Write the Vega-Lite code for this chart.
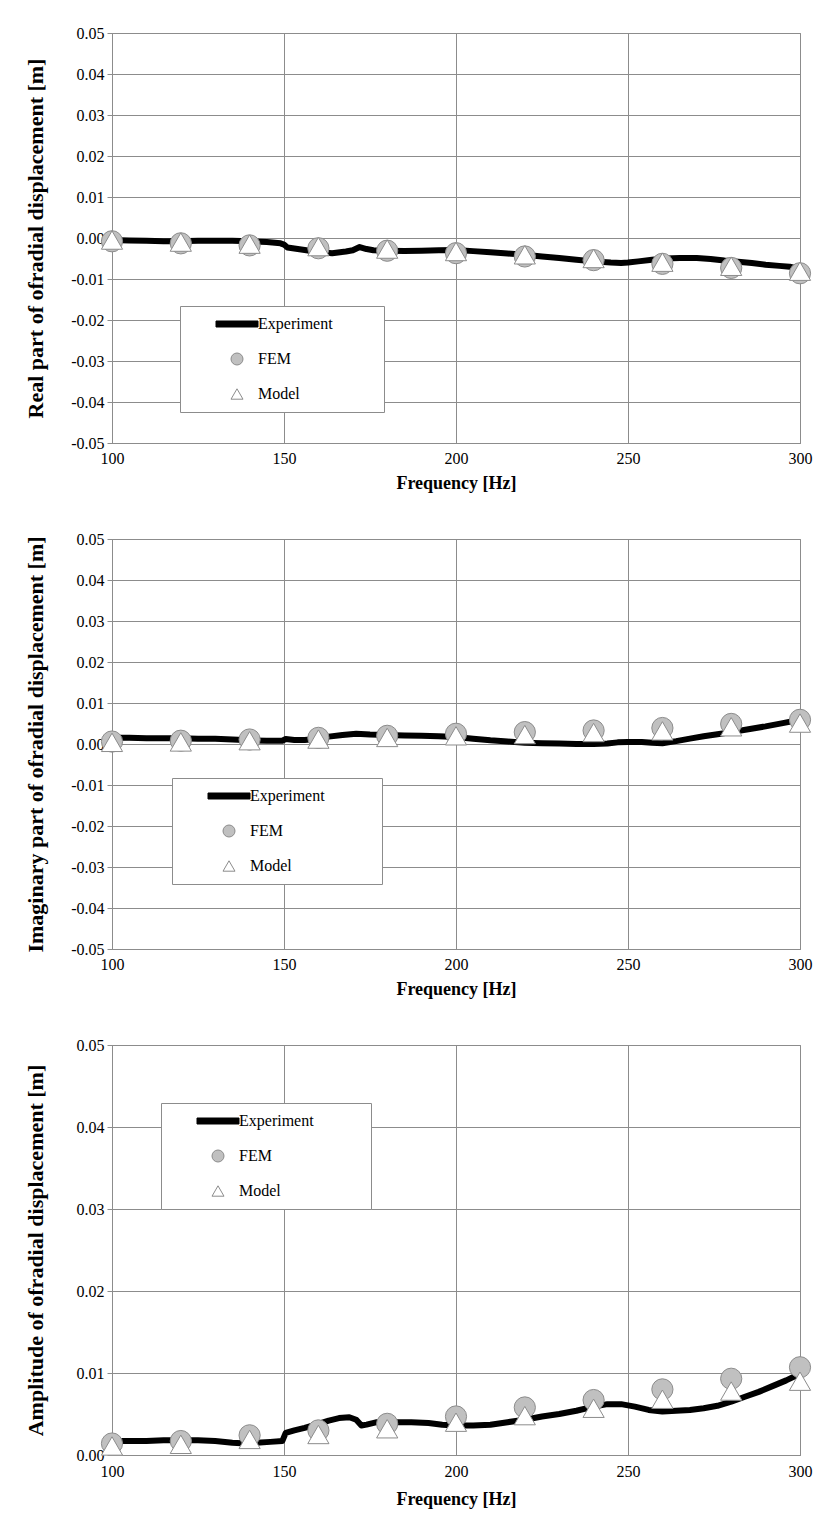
{
  "$schema": "https://vega.github.io/schema/vega-lite/v6.json",
  "background": "white",
  "padding": {"left": 23, "top": 24, "right": 5, "bottom": 5},
  "spacing": 96,
  "bounds": "flush",
  "resolve": {"scale": {"shape": "independent", "fill": "independent", "stroke": "independent"}, "legend": {"shape": "independent", "fill": "independent", "stroke": "independent"}},
  "config": {
    "font": "Liberation Serif",
    "view": {"stroke": "#8c8c8c", "strokeWidth": 1},
    "axis": {
      "labelFont": "Liberation Serif", "labelFontSize": 16, "labelColor": "#000000",
      "titleFont": "Liberation Serif", "titleFontSize": 18, "titleFontWeight": "bold", "titleColor": "#000000",
      "gridColor": "#8c8c8c", "gridOpacity": 1, "gridWidth": 1,
      "domainColor": "#8c8c8c", "tickColor": "#8c8c8c"
    },
    "axisY": {"titleFontSize": 22},
    "legend": {
      "title": null, "orient": "none", "padding": 10,
      "strokeColor": "#8c8c8c", "fillColor": "#ffffff",
      "labelFont": "Liberation Serif", "labelFontSize": 16, "labelColor": "#000000", "labelLimit": 400,
      "symbolSize": 144, "symbolStrokeWidth": 1, "symbolOffset": 39, "labelOffset": 13, "rowPadding": 19
    }
  },
  "vconcat": [
    {
      "width": 688, "height": 410,
      "layer": [
        {
          "data": {"values": [
            {"f":100,"v":-0.0005},{"f":105,"v":-0.0006},{"f":110,"v":-0.0007},{"f":115,"v":-0.0008},{"f":119,"v":-0.0008},{"f":125,"v":-0.0007},{"f":130,"v":-0.0007},{"f":135,"v":-0.0007},{"f":140,"v":-0.0008},{"f":145,"v":-0.001},{"f":149,"v":-0.0013},{"f":150,"v":-0.0016},{"f":151,"v":-0.0023},{"f":155,"v":-0.0028},{"f":160,"v":-0.0034},{"f":164,"v":-0.0037},{"f":168,"v":-0.0033},{"f":170,"v":-0.003},{"f":172,"v":-0.0022},{"f":174,"v":-0.0027},{"f":176,"v":-0.003},{"f":180,"v":-0.0031},{"f":185,"v":-0.0032},{"f":190,"v":-0.0031},{"f":195,"v":-0.003},{"f":200,"v":-0.0029},{"f":205,"v":-0.0032},{"f":210,"v":-0.0035},{"f":215,"v":-0.0038},{"f":220,"v":-0.0041},{"f":225,"v":-0.0045},{"f":230,"v":-0.0049},{"f":235,"v":-0.0053},{"f":240,"v":-0.0057},{"f":245,"v":-0.006},{"f":248,"v":-0.0061},{"f":250,"v":-0.006},{"f":253,"v":-0.0057},{"f":257,"v":-0.0053},{"f":261,"v":-0.005},{"f":265,"v":-0.0049},{"f":270,"v":-0.0049},{"f":274,"v":-0.0051},{"f":278,"v":-0.0055},{"f":282,"v":-0.0058},{"f":286,"v":-0.0061},{"f":290,"v":-0.0065},{"f":294,"v":-0.0068},{"f":297,"v":-0.007},{"f":300,"v":-0.0076}
          ]},
          "mark": {"type": "line", "color": "#000000", "strokeWidth": 6, "strokeCap": "round", "strokeJoin": "round"},
          "encoding": {
            "x": {"field": "f", "type": "quantitative", "scale": {"domain": [100, 300], "nice": false, "zero": false},
                  "axis": {"title": "Frequency [Hz]", "values": [100,150,200,250,300], "format": "d", "ticks": false, "tickSize": 0, "labelPadding": 7, "titlePadding": 8, "labelFlush": false, "grid": true}},
            "y": {"field": "v", "type": "quantitative", "scale": {"domain": [-0.05, 0.05], "nice": false, "zero": false},
                  "axis": {"title": "Real part of  ofradial displacement [m]", "values": [-0.05,-0.04,-0.03,-0.02,-0.01,0,0.01,0.02,0.03,0.04,0.05], "format": ".2f", "labelExpr": "replace(datum.label, '−', '-')", "tickSize": 5, "labelPadding": 3, "titlePadding": 23, "grid": true}}
          }
        },
        {
          "data": {"values": [
            {"f":100,"v":-0.0008,"s":"FEM"},{"f":120,"v":-0.0013,"s":"FEM"},{"f":140,"v":-0.0018,"s":"FEM"},{"f":160,"v":-0.0025,"s":"FEM"},{"f":180,"v":-0.0031,"s":"FEM"},{"f":200,"v":-0.0037,"s":"FEM"},{"f":220,"v":-0.0045,"s":"FEM"},{"f":240,"v":-0.0054,"s":"FEM"},{"f":260,"v":-0.0063,"s":"FEM"},{"f":280,"v":-0.0073,"s":"FEM"},{"f":300,"v":-0.0086,"s":"FEM"},
            {"f":100,"v":-0.0005,"s":"Model"},{"f":120,"v":-0.001,"s":"Model"},{"f":140,"v":-0.0015,"s":"Model"},{"f":160,"v":-0.0021,"s":"Model"},{"f":180,"v":-0.0027,"s":"Model"},{"f":200,"v":-0.0033,"s":"Model"},{"f":220,"v":-0.0041,"s":"Model"},{"f":240,"v":-0.005,"s":"Model"},{"f":260,"v":-0.0059,"s":"Model"},{"f":280,"v":-0.0069,"s":"Model"},{"f":300,"v":-0.0081,"s":"Model"}
          ]},
          "mark": {"type": "point", "filled": true, "strokeWidth": 1, "size": 450, "opacity": 1},
          "encoding": {
            "x": {"field": "f", "type": "quantitative"},
            "y": {"field": "v", "type": "quantitative"},
            "shape": {"field": "s", "type": "nominal", "scale": {"domain": ["Experiment","FEM","Model"], "range": ["M-3.5,-0.5L3.5,-0.5L3.5,0.5L-3.5,0.5Z M22.5,0", "circle", "triangle-up"]},
              "legend": {"legendX": 68, "legendY": 273}},
            "fill": {"field": "s", "type": "nominal", "scale": {"domain": ["Experiment","FEM","Model"], "range": ["#000000", "#c0c0c0", "#ffffff"]},
              "legend": {"legendX": 68, "legendY": 273}},
            "stroke": {"field": "s", "type": "nominal", "scale": {"domain": ["Experiment","FEM","Model"], "range": ["#000000", "#8c8c8c", "#8c8c8c"]},
              "legend": {"legendX": 68, "legendY": 273}}
          }
        }
      ]
    },
    {
      "width": 688, "height": 410,
      "layer": [
        {
          "data": {"values": [
            {"f":100,"v":0.0015},{"f":105,"v":0.0015},{"f":110,"v":0.0014},{"f":115,"v":0.0014},{"f":120,"v":0.0014},{"f":125,"v":0.0013},{"f":130,"v":0.0013},{"f":135,"v":0.0011},{"f":140,"v":0.0009},{"f":145,"v":0.0008},{"f":149.5,"v":0.0008},{"f":150.5,"v":0.0012},{"f":153,"v":0.001},{"f":156,"v":0.001},{"f":160,"v":0.0013},{"f":163,"v":0.0018},{"f":167,"v":0.0022},{"f":171,"v":0.0025},{"f":175,"v":0.0023},{"f":180,"v":0.0022},{"f":185,"v":0.0021},{"f":190,"v":0.002},{"f":195,"v":0.0019},{"f":200,"v":0.0017},{"f":205,"v":0.0013},{"f":210,"v":0.0009},{"f":215,"v":0.0006},{"f":220,"v":0.0003},{"f":225,"v":0.0002},{"f":230,"v":0.0001},{"f":235,"v":0.0},{"f":240,"v":0.0},{"f":244,"v":0.0001},{"f":247,"v":0.0004},{"f":250,"v":0.0005},{"f":254,"v":0.0005},{"f":257,"v":0.0003},{"f":260,"v":0.0002},{"f":264,"v":0.0007},{"f":268,"v":0.0013},{"f":272,"v":0.0019},{"f":276,"v":0.0024},{"f":280,"v":0.0029},{"f":285,"v":0.0036},{"f":290,"v":0.0043},{"f":295,"v":0.0051},{"f":300,"v":0.0059}
          ]},
          "mark": {"type": "line", "color": "#000000", "strokeWidth": 6, "strokeCap": "round", "strokeJoin": "round"},
          "encoding": {
            "x": {"field": "f", "type": "quantitative", "scale": {"domain": [100, 300], "nice": false, "zero": false},
                  "axis": {"title": "Frequency [Hz]", "values": [100,150,200,250,300], "format": "d", "ticks": false, "tickSize": 0, "labelPadding": 7, "titlePadding": 8, "labelFlush": false, "grid": true}},
            "y": {"field": "v", "type": "quantitative", "scale": {"domain": [-0.05, 0.05], "nice": false, "zero": false},
                  "axis": {"title": "Imaginary part of  ofradial displacement [m]", "values": [-0.05,-0.04,-0.03,-0.02,-0.01,0,0.01,0.02,0.03,0.04,0.05], "format": ".2f", "labelExpr": "replace(datum.label, '−', '-')", "tickSize": 5, "labelPadding": 3, "titlePadding": 23, "grid": true}}
          }
        },
        {
          "data": {"values": [
            {"f":100,"v":0.0006,"s":"FEM"},{"f":120,"v":0.0008,"s":"FEM"},{"f":140,"v":0.0011,"s":"FEM"},{"f":160,"v":0.0015,"s":"FEM"},{"f":180,"v":0.002,"s":"FEM"},{"f":200,"v":0.0025,"s":"FEM"},{"f":220,"v":0.0029,"s":"FEM"},{"f":240,"v":0.0033,"s":"FEM"},{"f":260,"v":0.0039,"s":"FEM"},{"f":280,"v":0.0049,"s":"FEM"},{"f":300,"v":0.0059,"s":"FEM"},
            {"f":100,"v":0.0004,"s":"Model"},{"f":120,"v":0.0005,"s":"Model"},{"f":140,"v":0.0008,"s":"Model"},{"f":160,"v":0.0012,"s":"Model"},{"f":180,"v":0.0016,"s":"Model"},{"f":200,"v":0.002,"s":"Model"},{"f":220,"v":0.0023,"s":"Model"},{"f":240,"v":0.0028,"s":"Model"},{"f":260,"v":0.0032,"s":"Model"},{"f":280,"v":0.0042,"s":"Model"},{"f":300,"v":0.0051,"s":"Model"}
          ]},
          "mark": {"type": "point", "filled": true, "strokeWidth": 1, "size": 450, "opacity": 1},
          "encoding": {
            "x": {"field": "f", "type": "quantitative"},
            "y": {"field": "v", "type": "quantitative"},
            "shape": {"field": "s", "type": "nominal", "scale": {"domain": ["Experiment","FEM","Model"], "range": ["M-3.5,-0.5L3.5,-0.5L3.5,0.5L-3.5,0.5Z M23.5,0", "circle", "triangle-up"]},
              "legend": {"legendX": 60, "legendY": 239}},
            "fill": {"field": "s", "type": "nominal", "scale": {"domain": ["Experiment","FEM","Model"], "range": ["#000000", "#c0c0c0", "#ffffff"]},
              "legend": {"legendX": 60, "legendY": 239}},
            "stroke": {"field": "s", "type": "nominal", "scale": {"domain": ["Experiment","FEM","Model"], "range": ["#000000", "#8c8c8c", "#8c8c8c"]},
              "legend": {"legendX": 60, "legendY": 239}}
          }
        }
      ]
    },
    {
      "width": 688, "height": 410,
      "layer": [
        {
          "data": {"values": [
            {"f":100,"v":0.0017},{"f":105,"v":0.0017},{"f":110,"v":0.0017},{"f":115,"v":0.0018},{"f":120,"v":0.0018},{"f":125,"v":0.0018},{"f":130,"v":0.0017},{"f":135,"v":0.0015},{"f":139,"v":0.0014},{"f":142,"v":0.0015},{"f":146,"v":0.0016},{"f":149.5,"v":0.0017},{"f":150.5,"v":0.0027},{"f":153,"v":0.003},{"f":156,"v":0.0033},{"f":160,"v":0.0038},{"f":163,"v":0.0042},{"f":166,"v":0.0045},{"f":169,"v":0.0046},{"f":171,"v":0.0043},{"f":172.5,"v":0.0036},{"f":174,"v":0.0037},{"f":177,"v":0.004},{"f":182,"v":0.004},{"f":187,"v":0.004},{"f":192,"v":0.0039},{"f":196,"v":0.0037},{"f":200,"v":0.0036},{"f":205,"v":0.0036},{"f":210,"v":0.0037},{"f":215,"v":0.004},{"f":220,"v":0.0043},{"f":225,"v":0.0047},{"f":230,"v":0.005},{"f":235,"v":0.0054},{"f":240,"v":0.0059},{"f":244,"v":0.0062},{"f":248,"v":0.0062},{"f":252,"v":0.0059},{"f":256,"v":0.0055},{"f":260,"v":0.0053},{"f":264,"v":0.0054},{"f":268,"v":0.0055},{"f":272,"v":0.0057},{"f":276,"v":0.006},{"f":280,"v":0.0065},{"f":284,"v":0.0071},{"f":288,"v":0.0077},{"f":292,"v":0.0084},{"f":296,"v":0.0091},{"f":300,"v":0.0099}
          ]},
          "mark": {"type": "line", "color": "#000000", "strokeWidth": 6, "strokeCap": "round", "strokeJoin": "round"},
          "encoding": {
            "x": {"field": "f", "type": "quantitative", "scale": {"domain": [100, 300], "nice": false, "zero": false},
                  "axis": {"title": "Frequency [Hz]", "values": [100,150,200,250,300], "format": "d", "ticks": false, "tickSize": 0, "labelPadding": 8, "titlePadding": 11, "labelFlush": false, "grid": true}},
            "y": {"field": "v", "type": "quantitative", "scale": {"domain": [0, 0.05], "nice": false, "zero": false},
                  "axis": {"title": "Amplitude of  ofradial displacement [m]", "values": [0,0.01,0.02,0.03,0.04,0.05], "format": ".2f", "tickSize": 5, "labelPadding": 3, "titlePadding": 29, "grid": true}}
          }
        },
        {
          "data": {"values": [
            {"f":100,"v":0.0014,"s":"FEM"},{"f":120,"v":0.0017,"s":"FEM"},{"f":140,"v":0.0024,"s":"FEM"},{"f":160,"v":0.003,"s":"FEM"},{"f":180,"v":0.0038,"s":"FEM"},{"f":200,"v":0.0047,"s":"FEM"},{"f":220,"v":0.0058,"s":"FEM"},{"f":240,"v":0.0067,"s":"FEM"},{"f":260,"v":0.008,"s":"FEM"},{"f":280,"v":0.0093,"s":"FEM"},{"f":300,"v":0.0107,"s":"FEM"},
            {"f":100,"v":0.0011,"s":"Model"},{"f":120,"v":0.0013,"s":"Model"},{"f":140,"v":0.0019,"s":"Model"},{"f":160,"v":0.0025,"s":"Model"},{"f":180,"v":0.0032,"s":"Model"},{"f":200,"v":0.004,"s":"Model"},{"f":220,"v":0.0048,"s":"Model"},{"f":240,"v":0.0057,"s":"Model"},{"f":260,"v":0.0068,"s":"Model"},{"f":280,"v":0.0078,"s":"Model"},{"f":300,"v":0.009,"s":"Model"}
          ]},
          "mark": {"type": "point", "filled": true, "strokeWidth": 1, "size": 450, "opacity": 1},
          "encoding": {
            "x": {"field": "f", "type": "quantitative"},
            "y": {"field": "v", "type": "quantitative"},
            "shape": {"field": "s", "type": "nominal", "scale": {"domain": ["Experiment","FEM","Model"], "range": ["M-3.5,-0.5L3.5,-0.5L3.5,0.5L-3.5,0.5Z M23.5,0", "circle", "triangle-up"]},
              "legend": {"legendX": 49, "legendY": 58}},
            "fill": {"field": "s", "type": "nominal", "scale": {"domain": ["Experiment","FEM","Model"], "range": ["#000000", "#c0c0c0", "#ffffff"]},
              "legend": {"legendX": 49, "legendY": 58}},
            "stroke": {"field": "s", "type": "nominal", "scale": {"domain": ["Experiment","FEM","Model"], "range": ["#000000", "#8c8c8c", "#8c8c8c"]},
              "legend": {"legendX": 49, "legendY": 58}}
          }
        }
      ]
    }
  ]
}
